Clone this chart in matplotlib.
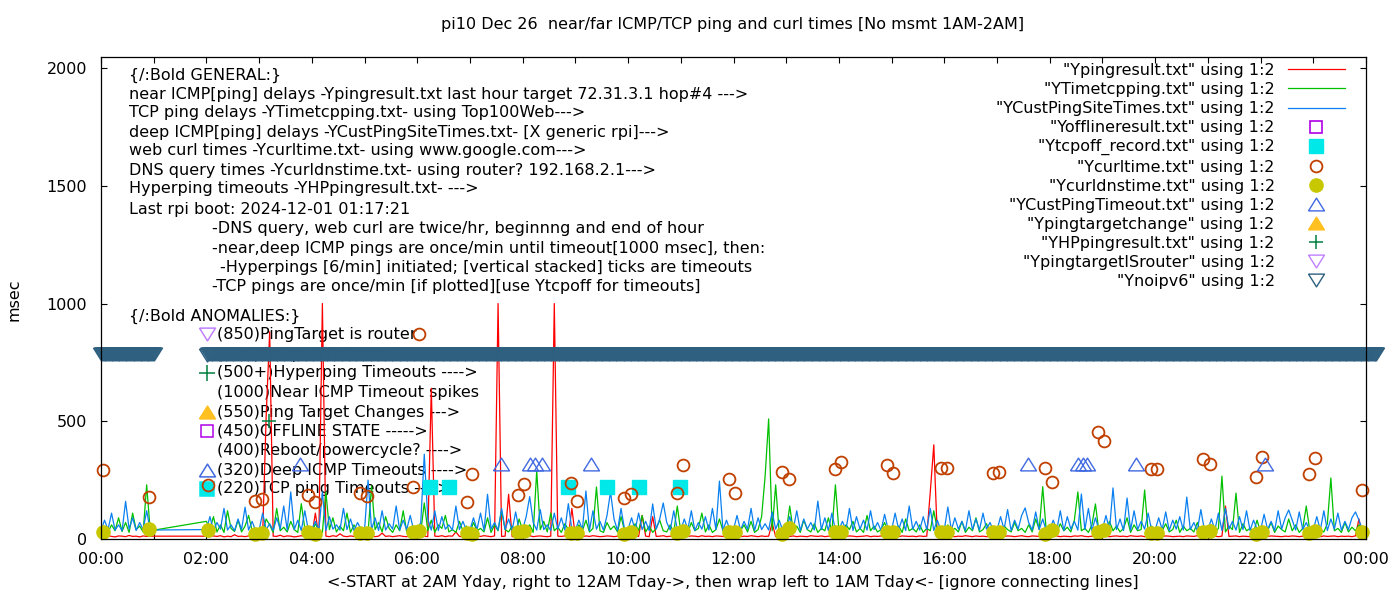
import numpy as np
import matplotlib
matplotlib.use("Agg")
import matplotlib.pyplot as plt
from matplotlib.ticker import MultipleLocator, FuncFormatter

plt.rcParams['font.family'] = ['DejaVu Sans']

# hour rows of 4-minute samples (hh:00, hh:04 ... hh:56); no msmt 01:00-02:00
row_hours = [0, 2, 3, 4, 5, 6, 7, 8, 9, 10, 11, 12, 13, 14, 15, 16, 17, 18, 19, 20, 21, 22, 23]

near_icmp = [
    [12, 10, 14, 11, 9, 13, 12, 10, 15, 11, 12, 9, 13, 11, 12],
    [12, 10, 13, 11, 14, 9, 12, 10, 18, 11, 12, 10, 13, 12, 11],
    [10, 14, 520, 880, 12, 11, 16, 10, 13, 12, 9, 11, 14, 10, 12],
    [11, 110, 13, 1000, 12, 10, 14, 11, 22, 12, 10, 13, 11, 15, 10],
    [12, 11, 14, 10, 12, 25, 11, 13, 10, 12, 14, 11, 10, 13, 12],
    [11, 13, 12, 10, 640, 12, 11, 14, 10, 13, 12, 30, 11, 10, 12],
    [13, 10, 12, 11, 14, 12, 10, 13, 1000, 11, 12, 190, 10, 13, 11],
    [12, 11, 14, 10, 12, 13, 11, 10, 12, 1000, 12, 11, 13, 10, 130],
    [11, 12, 10, 13, 11, 14, 12, 10, 11, 13, 12, 10, 12, 11, 13],
    [12, 10, 13, 11, 100, 12, 10, 95, 11, 12, 14, 10, 12, 11, 13],
    [10, 12, 11, 13, 12, 10, 14, 11, 12, 10, 13, 12, 11, 10, 12],
    [11, 13, 10, 12, 11, 14, 12, 10, 13, 11, 12, 68, 10, 12, 11],
    [12, 11, 13, 10, 12, 11, 10, 14, 12, 11, 13, 10, 12, 11, 12],
    [10, 12, 11, 13, 12, 10, 11, 12, 14, 10, 12, 11, 13, 12, 10],
    [12, 11, 10, 13, 12, 11, 12, 10, 13, 11, 12, 200, 400, 12, 11],
    [11, 13, 12, 10, 12, 11, 14, 12, 10, 13, 11, 12, 10, 12, 13],
    [12, 10, 11, 13, 12, 10, 12, 14, 11, 10, 13, 12, 11, 12, 10],
    [11, 12, 13, 10, 12, 11, 10, 13, 12, 14, 11, 10, 12, 13, 11],
    [12, 11, 10, 12, 13, 11, 12, 10, 14, 12, 11, 13, 10, 12, 11],
    [10, 12, 11, 13, 12, 10, 11, 12, 10, 13, 12, 11, 14, 10, 12],
    [11, 13, 12, 10, 12, 140, 11, 12, 13, 10, 12, 11, 10, 12, 13],
    [12, 10, 11, 13, 12, 11, 10, 12, 11, 13, 12, 10, 12, 11, 12],
    [11, 12, 10, 13, 11, 12, 13, 10, 12, 11, 12, 10, 13, 85, 12],
]

tcp_ping = [
    [30, 45, 28, 60, 35, 90, 32, 70, 28, 110, 40, 55, 30, 230, 35],
    [75, 40, 95, 30, 60, 28, 120, 45, 32, 80, 30, 55, 100, 35, 28],
    [45, 30, 85, 60, 28, 130, 35, 50, 30, 75, 40, 28, 150, 45, 32],
    [30, 65, 35, 28, 200, 40, 90, 30, 55, 35, 110, 28, 60, 32, 45],
    [35, 28, 225, 40, 70, 30, 95, 45, 28, 60, 35, 120, 30, 50, 28],
    [40, 30, 153, 35, 80, 28, 60, 45, 100, 30, 40, 28, 75, 35, 55],
    [28, 70, 35, 45, 30, 90, 28, 60, 35, 120, 40, 30, 55, 28, 85],
    [35, 45, 60, 28, 290, 40, 75, 30, 110, 35, 50, 28, 65, 40, 30],
    [28, 60, 35, 80, 30, 45, 221, 35, 28, 70, 40, 55, 30, 95, 35],
    [40, 28, 65, 35, 100, 30, 55, 28, 45, 80, 35, 30, 60, 28, 140],
    [30, 50, 28, 70, 35, 45, 110, 30, 60, 28, 40, 85, 35, 30, 55],
    [28, 45, 35, 60, 30, 75, 28, 40, 95, 267, 510, 35, 230, 28, 50],
    [30, 140, 35, 55, 28, 80, 40, 30, 65, 28, 45, 35, 90, 30, 230],
    [35, 28, 60, 40, 75, 30, 45, 28, 100, 35, 55, 30, 40, 70, 28],
    [40, 30, 55, 28, 85, 35, 45, 30, 60, 28, 45, 35, 120, 40, 30],
    [28, 60, 35, 45, 30, 75, 28, 50, 35, 90, 30, 40, 65, 28, 45],
    [35, 28, 55, 40, 30, 70, 35, 45, 28, 60, 30, 85, 40, 222, 35],
    [30, 45, 28, 65, 35, 50, 30, 80, 200, 35, 45, 28, 60, 149, 30],
    [40, 28, 75, 35, 55, 30, 45, 90, 28, 60, 35, 40, 208, 30, 55],
    [28, 50, 35, 65, 30, 40, 80, 28, 55, 35, 45, 30, 70, 28, 40],
    [35, 60, 28, 45, 267, 30, 55, 40, 195, 28, 65, 35, 45, 30, 80],
    [30, 45, 35, 70, 28, 55, 40, 30, 85, 35, 60, 28, 45, 140, 35],
    [28, 55, 40, 30, 65, 259, 35, 45, 28, 70, 30, 50, 35, 60, 30],
]

deep_icmp = [
    [35, 80, 40, 110, 38, 60, 35, 160, 42, 90, 36, 70, 40, 120, 38],
    [40, 95, 36, 70, 42, 130, 38, 60, 35, 85, 40, 135, 38, 75, 36],
    [38, 110, 40, 65, 36, 90, 42, 140, 38, 200, 40, 80, 36, 120, 38],
    [40, 75, 38, 200, 36, 95, 42, 60, 38, 130, 40, 85, 36, 70, 42],
    [38, 250, 40, 90, 36, 120, 38, 65, 42, 140, 38, 80, 40, 100, 36],
    [40, 70, 360, 85, 38, 120, 36, 95, 42, 60, 38, 140, 40, 75, 36],
    [38, 90, 40, 110, 36, 190, 42, 70, 38, 130, 40, 85, 36, 115, 38],
    [40, 95, 180, 70, 38, 125, 40, 60, 36, 110, 42, 90, 38, 150, 40],
    [38, 80, 40, 204, 36, 120, 42, 75, 38, 100, 200, 85, 36, 130, 40],
    [42, 90, 38, 110, 40, 75, 36, 149, 42, 85, 153, 70, 38, 120, 40],
    [38, 85, 40, 120, 36, 70, 42, 95, 38, 130, 40, 246, 36, 80, 38],
    [40, 100, 38, 75, 42, 130, 36, 90, 40, 65, 38, 115, 42, 80, 36],
    [38, 95, 40, 120, 36, 85, 42, 70, 38, 161, 40, 90, 36, 110, 38],
    [40, 75, 38, 130, 36, 95, 42, 80, 38, 120, 40, 70, 36, 105, 42],
    [38, 110, 40, 85, 36, 140, 42, 75, 38, 95, 40, 130, 36, 80, 38],
    [40, 136, 38, 90, 42, 75, 36, 120, 40, 85, 38, 110, 42, 70, 36],
    [38, 95, 40, 125, 36, 80, 42, 100, 132, 70, 38, 115, 40, 85, 36],
    [40, 80, 38, 120, 36, 95, 42, 75, 38, 191, 40, 130, 36, 90, 38],
    [42, 100, 38, 217, 40, 85, 36, 174, 38, 120, 40, 75, 42, 110, 36],
    [38, 90, 40, 115, 36, 80, 42, 95, 38, 178, 40, 70, 36, 125, 38],
    [40, 85, 38, 110, 36, 130, 42, 75, 38, 95, 40, 120, 36, 80, 42],
    [38, 105, 40, 75, 36, 120, 42, 90, 123, 80, 38, 115, 40, 70, 36],
    [40, 95, 38, 120, 36, 85, 42, 110, 38, 75, 40, 90, 115, 80, 38],
]

# curl / dns: twice an hour (hh:55 and hh:02)
curl_hours = [0.04, 0.91, 2.03, 2.92, 3.05, 3.93, 4.06, 4.91, 5.05, 5.92, 6.03, 6.94, 7.04,
              7.91, 8.03, 8.92, 9.03, 9.92, 10.05, 10.93, 11.04, 11.91, 12.03, 12.92, 13.05,
              13.93, 14.04, 14.91, 15.03, 15.94, 16.05, 16.92, 17.04, 17.91, 18.04, 18.91,
              19.03, 19.92, 20.03, 20.91, 21.04, 21.91, 22.03, 22.92, 23.03, 23.92]
curl_ms = [293, 178, 229, 161, 170, 187, 157, 195, 183, 221, 870, 157, 276,
           187, 234, 238, 161, 174, 191, 195, 314, 255, 195, 285, 255,
           297, 327, 314, 280, 301, 301, 280, 285, 301, 242, 454,
           416, 297, 297, 340, 318, 263, 348, 276, 344, 208]
dns_ms = [30, 42, 38, 22, 26, 28, 22, 25, 25, 30, 32, 25, 22,
          30, 35, 25, 27, 22, 30, 25, 32, 28, 28, 22, 45,
          30, 30, 30, 30, 28, 28, 28, 28, 22, 38, 28,
          38, 25, 25, 28, 35, 20, 28, 25, 35, 30]

deep_timeout_hours = [3.78, 7.59, 8.14, 8.23, 8.37, 9.30, 17.59, 18.54, 18.63, 18.71, 19.64, 22.08]
deep_timeout_ms = [320, 320, 320, 320, 320, 320, 320, 320, 320, 320, 320, 320]

tcpoff_hours = [6.24, 6.60, 8.86, 9.60, 10.21, 10.98]
tcpoff_ms = [220, 220, 220, 220, 220, 220]

hp_hours = [3.19]
hp_ms = [500]

# Ynoipv6 logged every minute at 785 over these spans (hours)
noipv6_spans = [(0.0, 1.0), (2.03, 24.2)]
noipv6_ms = 785


def row_series(rows):
    t, v = [], []
    for h, row in zip(row_hours, rows):
        for j, val in enumerate(row):
            t.append(h + j * 4 / 60)
            v.append(val)
    return np.array(t), np.array(v)


FS = 11.5

fig = plt.figure(figsize=(14, 6), dpi=100)
ax = fig.add_axes([101 / 1400, 61 / 600, 1265 / 1400, 482 / 600])

tri_down = [(-1, 0.8), (1, 0.8), (0, -0.8), (-1, 0.8)]
tri_up = [(-1, -0.8), (1, -0.8), (0, 0.8), (-1, -0.8)]

RED = '#ff0000'
GREEN = '#00c000'
BLUE = '#0a80f0'
OFFL = '#b000e8'
CYAN = '#00e8e8'
CURL = '#c04000'
DNS = '#c8c800'
TMO = '#4169e1'
TCHG = '#ffc020'
HPC = '#008040'
ISR = '#c080ff'
NOV6 = '#2f6080'

t, v = row_series(near_icmp)
ax.plot(t, v, color=RED, lw=0.9, label='"Ypingresult.txt" using 1:2')
t, v = row_series(tcp_ping)
ax.plot(t, v, color=GREEN, lw=0.9, label='"YTimetcpping.txt" using 1:2')
t, v = row_series(deep_icmp)
ax.plot(t, v, color=BLUE, lw=0.9, label='"YCustPingSiteTimes.txt" using 1:2')

ax.plot([], [], ls='none', marker='s', ms=9, mfc='none', mec=OFFL, mew=1.2,
        label='"Yofflineresult.txt" using 1:2')
ax.plot(tcpoff_hours, tcpoff_ms, ls='none', marker='s', ms=9.5, color=CYAN, clip_on=False,
        label='"Ytcpoff_record.txt" using 1:2')
ax.plot(curl_hours, curl_ms, ls='none', marker='o', ms=8.5, mfc='none', mec=CURL, mew=1.3,
        clip_on=False, label='"Ycurltime.txt" using 1:2')
ax.plot(curl_hours, dns_ms, ls='none', marker='o', ms=9.5, color=DNS, clip_on=False,
        label='"Ycurldnstime.txt" using 1:2')
ax.plot(deep_timeout_hours, deep_timeout_ms, ls='none', marker=tri_up, ms=11.5, mfc='none',
        mec=TMO, mew=1.0, clip_on=False, label='"YCustPingTimeout.txt" using 1:2')
ax.plot([], [], ls='none', marker=tri_up, ms=11.5, color=TCHG,
        label='"Ypingtargetchange" using 1:2')
ax.plot(hp_hours, hp_ms, ls='none', marker='+', ms=9.5, mew=1.1, color=HPC, clip_on=False,
        label='"YHPpingresult.txt" using 1:2')
ax.plot([], [], ls='none', marker=tri_down, ms=11.5, mfc='none', mec=ISR, mew=1.0,
        label='"YpingtargetISrouter" using 1:2')

nt = np.concatenate([np.arange(a * 60, b * 60 + 0.5) / 60 for a, b in noipv6_spans])
ax.plot(nt, np.full(len(nt), noipv6_ms), ls='none', marker=tri_down, ms=11.5, mfc='none',
        mec=NOV6, mew=1.0, clip_on=False, label='"Ynoipv6" using 1:2')

ax.set_xlim(0, 24)
ax.set_ylim(0, 2047)
ax.xaxis.set_major_locator(MultipleLocator(2))
ax.xaxis.set_minor_locator(MultipleLocator(1))
ax.xaxis.set_major_formatter(FuncFormatter(lambda x, p: '%02d:00' % (int(round(x)) % 24)))
ax.yaxis.set_major_locator(MultipleLocator(500))
ax.tick_params(which='both', direction='in', top=True, right=True, length=4.5, width=0.8,
               labelsize=FS)
ax.tick_params(axis='x', pad=9)
ax.tick_params(axis='y', pad=10)
for s in ax.spines.values():
    s.set_linewidth(0.9)

fig.text(733 / 1400, 1 - 25 / 600,
         'pi10 Dec 26  near/far ICMP/TCP ping and curl times [No msmt 1AM-2AM]',
         ha='center', va='center', fontsize=FS)
fig.text(733 / 1400, 1 - 583 / 600,
         '<-START at 2AM Yday, right to 12AM Tday->, then wrap left to 1AM Tday<- [ignore connecting lines]',
         ha='center', va='center', fontsize=FS)
fig.text(14 / 1400, 1 - 300 / 600, 'msec', rotation=90, ha='center', va='center', fontsize=FS)

leg = ax.legend(loc='upper right', bbox_to_anchor=(1345 / 1400, 1 - 63 / 600),
                bbox_transform=fig.transFigure, markerfirst=False, frameon=False,
                borderpad=0, borderaxespad=0, fontsize=FS, handlelength=3.6,
                handletextpad=0.8, labelspacing=0.255)

general = [
    (129, 75, '{/:Bold GENERAL:}'),
    (129, 94, 'near ICMP[ping] delays -Ypingresult.txt last hour target 72.31.3.1 hop#4 --->'),
    (129, 113, 'TCP ping delays -YTimetcpping.txt- using Top100Web--->'),
    (129, 132, 'deep ICMP[ping] delays -YCustPingSiteTimes.txt- [X generic rpi]--->'),
    (129, 151, 'web curl times -Ycurltime.txt- using www.google.com--->'),
    (129, 170, 'DNS query times -Ycurldnstime.txt- using router? 192.168.2.1--->'),
    (129, 189, 'Hyperping timeouts -YHPpingresult.txt- --->'),
    (129, 209, 'Last rpi boot: 2024-12-01 01:17:21'),
    (212, 228, '-DNS query, web curl are twice/hr, beginnng and end of hour'),
    (212, 248, '-near,deep ICMP pings are once/min until timeout[1000 msec], then:'),
    (220, 267, '-Hyperpings [6/min] initiated; [vertical stacked] ticks are timeouts'),
    (212, 287, '-TCP pings are once/min [if plotted][use Ytcpoff for timeouts]'),
    (129, 316, '{/:Bold ANOMALIES:}'),
]
for x, y, s in general:
    ax.text(x / 1400, 1 - y / 600, s, transform=fig.transFigure, ha='left', va='center',
            fontsize=FS, zorder=1)

anomalies = [
    (334, '(850)PingTarget is router', dict(marker=tri_down, mfc='none', mec=ISR)),
    (355, '(785)No ipv6 fallback', dict(marker=tri_down, mfc='none', mec=NOV6)),
    (373, '(500+)Hyperping Timeouts ---->', dict(marker='+', color=HPC)),
    (392, '(1000)Near ICMP Timeout spikes', None),
    (412, '(550)Ping Target Changes --->', dict(marker=tri_up, color=TCHG)),
    (431, '(450)OFFLINE STATE ----->', dict(marker='s', mfc='none', mec=OFFL, ms=9)),
    (450, '(400)Reboot/powercycle? ---->', None),
    (470, '(320)Deep ICMP Timeouts ---->', dict(marker=tri_up, mfc='none', mec=TMO)),
    (489, '(220)TCP ping Timeouts ---->', dict(marker='s', color=CYAN, ms=9.5)),
]
for y, s, mk in anomalies:
    ax.text(217 / 1400, 1 - y / 600, s, transform=fig.transFigure, ha='left', va='center',
            fontsize=FS, zorder=1)
    if mk:
        kw = dict(ms=11.5, mew=1.1)
        kw.update(mk)
        ax.plot([207 / 1400], [1 - y / 600], transform=fig.transFigure, ls='none',
                clip_on=False, zorder=1.2, **kw)

fig.savefig('out.png', dpi=100)
